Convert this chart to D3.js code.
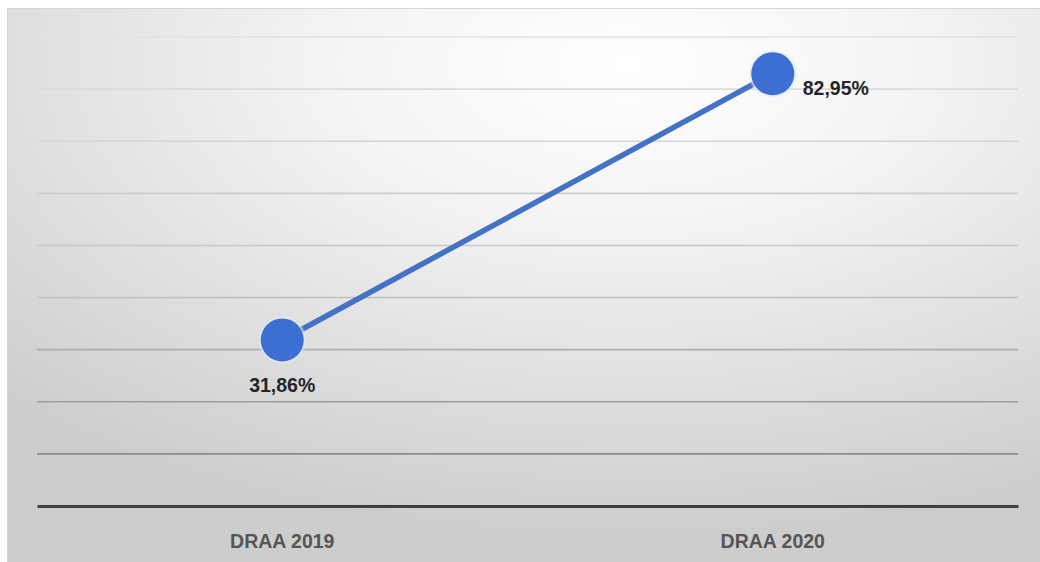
<!DOCTYPE html>
<html>
<head>
<meta charset="utf-8">
<script src="https://cdn.jsdelivr.net/npm/d3@7"></script>
<style>
  html, body { margin: 0; padding: 0; background: #fff; }
  svg { display: block; }
</style>
</head>
<body>
<svg id="chart" width="1040" height="562"></svg>
<script>
// Series data
const categories = ["DRAA 2019", "DRAA 2020"];
const values = [31.86, 82.95];
const valueLabels = ["31,86%", "82,95%"];
const yTicks = [0, 10, 20, 30, 40, 50, 60, 70, 80, 90];

const svg = d3.select("#chart");
const W = 1040, H = 562;
const plot = { left: 37, right: 1018, top: 37, bottom: 506 };

const defs = svg.append("defs");

// Panel background: soft radial shading
const bg = defs.append("radialGradient")
  .attr("id", "bgGrad")
  .attr("cx", 0.6).attr("cy", 0.1).attr("r", 0.85)
  .attr("fx", 0.6).attr("fy", 0.1);
bg.append("stop").attr("offset", "0%").attr("stop-color", "#ffffff");
bg.append("stop").attr("offset", "35%").attr("stop-color", "#f3f3f3");
bg.append("stop").attr("offset", "100%").attr("stop-color", "#cdcdcd");

// Gridlines darken toward the bottom of the plot
const gg = defs.append("linearGradient")
  .attr("id", "gridGrad")
  .attr("gradientUnits", "userSpaceOnUse")
  .attr("x1", 0).attr("y1", plot.top).attr("x2", 0).attr("y2", plot.bottom);
gg.append("stop").attr("offset", "0%").attr("stop-color", "#e2e2e2");
gg.append("stop").attr("offset", "55%").attr("stop-color", "#c0c0c0");
gg.append("stop").attr("offset", "100%").attr("stop-color", "#7a7a7a");

// Marker glow
const glow = defs.append("filter").attr("id", "glow")
  .attr("x", "-30%").attr("y", "-30%").attr("width", "160%").attr("height", "160%");
glow.append("feGaussianBlur").attr("stdDeviation", 1.2);

svg.append("rect")
  .attr("x", 7.5).attr("y", 8.5)
  .attr("width", W - 7).attr("height", H - 8)
  .attr("fill", "url(#bgGrad)")
  .attr("stroke", "#d6d6d6")
  .attr("stroke-width", 1);

const x = d3.scaleBand()
  .domain(categories)
  .range([plot.left, plot.right])
  .padding(0);

const y = d3.scaleLinear()
  .domain([0, 90])
  .range([plot.bottom, plot.top]);

// Horizontal gridlines
svg.append("g")
  .selectAll("line")
  .data(yTicks.filter(t => t > 0))
  .join("line")
  .attr("x1", plot.left).attr("x2", plot.right)
  .attr("y1", d => y(d)).attr("y2", d => y(d))
  .attr("stroke", "url(#gridGrad)")
  .attr("stroke-width", 1.6);

// Category axis
const xAxis = svg.append("g")
  .attr("transform", `translate(0,${plot.bottom})`)
  .call(d3.axisBottom(x).tickSize(0).tickPadding(28));
xAxis.select(".domain")
  .attr("stroke", "#3f3f3f")
  .attr("stroke-width", 3.2);
xAxis.selectAll("text")
  .attr("fill", "#555555")
  .attr("font-family", "'Liberation Sans', Arial, sans-serif")
  .attr("font-weight", "bold")
  .attr("font-size", "19.5px");

const cx = d => x(d) + x.bandwidth() / 2;
const pts = categories.map((c, i) => ({ c, v: values[i], label: valueLabels[i] }));

// Connecting line
svg.append("path")
  .datum(pts)
  .attr("fill", "none")
  .attr("stroke", "#4472c4")
  .attr("stroke-width", 5.5)
  .attr("stroke-linecap", "round")
  .attr("d", d3.line().x(d => cx(d.c)).y(d => y(d.v)));

// Markers
const mk = svg.append("g");
mk.selectAll("circle.halo")
  .data(pts)
  .join("circle")
  .attr("class", "halo")
  .attr("cx", d => cx(d.c)).attr("cy", d => y(d.v))
  .attr("r", 23)
  .attr("fill", "#dfe8f7")
  .attr("filter", "url(#glow)");
mk.selectAll("circle.dot")
  .data(pts)
  .join("circle")
  .attr("class", "dot")
  .attr("cx", d => cx(d.c)).attr("cy", d => y(d.v))
  .attr("r", 21.5)
  .attr("fill", "#3c6fd1");

// Value labels: below for the first point, right for the second
const lab = svg.append("g")
  .attr("font-family", "'Liberation Sans', Arial, sans-serif")
  .attr("font-weight", "bold")
  .attr("font-size", "19.5px")
  .attr("fill", "#262626");
lab.append("text")
  .attr("x", cx(pts[0].c))
  .attr("y", y(pts[0].v) + 52)
  .attr("text-anchor", "middle")
  .text(pts[0].label);
lab.append("text")
  .attr("x", cx(pts[1].c) + 30)
  .attr("y", y(pts[1].v) + 21)
  .attr("text-anchor", "start")
  .text(pts[1].label);
</script>
</body>
</html>
